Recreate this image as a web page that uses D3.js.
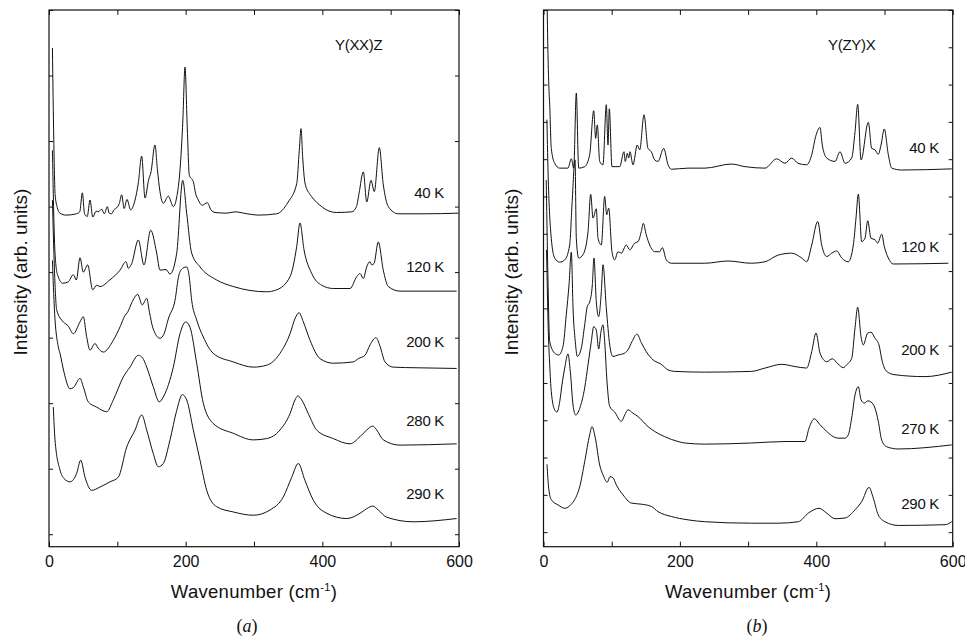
<!DOCTYPE html>
<html>
<head>
<meta charset="utf-8">
<script src="https://cdn.jsdelivr.net/npm/d3@7"></script>
<style>
  html, body { margin: 0; padding: 0; background: #fff; }
  svg { display: block; font-family: "Liberation Sans", Arial, Helvetica, sans-serif; }
</style>
</head>
<body>
<svg id="chart" width="965" height="638"></svg>
<script>
// ---------------------------------------------------------------
// Raman spectra, [wavenumber (cm^-1), stacked intensity (arb.)]
// ---------------------------------------------------------------

// Y(XX)Z geometry
const xxTemps = ["40 K", "120 K", "200 K", "280 K", "290 K"];
const xx40 = [[5,7.42],[7,6.02],[9,5.18],[12,4.99],[16,4.90],[25,4.87],[40,4.89],[45,4.92],[48.8,5.21],[52,4.89],[56,4.85],[60,5.10],[64,4.84],[69,4.93],[72,4.92],[77,4.96],[81,4.89],[85.4,5.00],[88,4.90],[91.7,4.89],[95,4.95],[99,4.98],[103,5.05],[106.3,5.18],[110,4.97],[114.1,5.11],[119.5,4.95],[125.9,5.10],[130.7,5.36],[135.6,5.77],[140.5,5.13],[145.6,5.40],[149.3,5.53],[155.1,5.94],[158.7,5.56],[162.4,5.23],[167.3,5.05],[174.6,5.16],[181.9,5.00],[187,5.15],[191.7,5.56],[195.9,6.32],[199,7.13],[202.3,6.22],[205.3,5.48],[211.2,5.38],[214.6,5.20],[218.5,5.10],[224.4,5.02],[231.7,5.06],[237,4.95],[242.9,4.91],[260,4.90],[272.2,4.92],[290,4.89],[306.3,4.87],[333,4.89],[350,5.07],[362.5,5.35],[366.3,5.86],[368.8,6.19],[371.2,5.76],[374.6,5.36],[381,5.20],[384.4,5.15],[399,5.00],[406,4.95],[421,4.91],[443,4.92],[450,5.00],[453.7,5.20],[460,5.53],[465,5.07],[471.2,5.40],[476,5.23],[483.4,5.90],[489,5.35],[496.6,5.00],[511,4.89],[550,4.89],[599,4.90]];
const xx120 = [[5,5.86],[8,4.49],[11,4.03],[13.6,3.93],[20,3.83],[28,3.85],[35.6,3.96],[40,3.88],[45.4,4.22],[50.2,4.00],[56.6,4.11],[63.9,3.73],[69.8,3.80],[74.6,3.78],[89,3.88],[103.9,4.03],[112.7,4.16],[116,4.06],[121,4.13],[130.7,4.49],[139,4.11],[148.8,4.64],[157.6,4.29],[162.4,4.03],[171.2,4.04],[177.1,3.97],[186.9,4.29],[195.7,5.40],[201.5,4.90],[208.8,4.29],[221,4.08],[245.4,3.88],[269.7,3.78],[318.6,3.70],[333.2,3.73],[352.7,3.93],[362.5,4.39],[367.3,4.75],[373.2,4.34],[384.4,3.98],[399.1,3.80],[416,3.75],[440.5,3.75],[450.3,3.93],[455.2,3.98],[460,3.90],[464.9,4.08],[469.8,4.16],[472.2,4.11],[475.6,4.13],[481.9,4.46],[489.2,4.03],[496.5,3.78],[513.6,3.71],[596.6,3.71]];
const xx200 = [[5,5.10],[8,4.03],[11.3,3.42],[20.9,3.24],[28,3.18],[35.6,3.06],[45.4,3.24],[50.2,3.32],[55,3.02],[60,2.81],[67.3,2.91],[72,2.84],[79.5,2.78],[94.1,2.96],[105,3.19],[110.2,3.32],[115.6,3.40],[121,3.53],[129.8,3.66],[136.5,3.50],[143,3.60],[147,3.39],[152,3.15],[162.4,2.99],[168,3.05],[175,3.30],[184.4,3.57],[190,3.95],[195.7,4.06],[201.5,4.08],[205,3.95],[208.8,3.57],[216.1,3.27],[225.8,3.01],[240.4,2.76],[269.7,2.63],[299,2.55],[318.6,2.58],[338,2.76],[352.7,3.06],[360,3.29],[365.9,3.38],[372.2,3.24],[382,2.96],[396.6,2.68],[416,2.61],[445.3,2.63],[452.6,2.68],[462.4,2.73],[469.8,2.89],[478.5,3.00],[484.4,2.87],[491.7,2.63],[503.8,2.55],[540,2.54],[596.6,2.53]];
const xx280 = [[5,4.18],[8,3.42],[13.6,2.86],[16.1,2.76],[22,2.47],[30.7,2.22],[36,2.24],[45.4,2.38],[50.2,2.25],[57.5,2.02],[69.8,1.94],[84.4,1.87],[94.1,2.05],[108.7,2.40],[118.5,2.55],[130.7,2.73],[137,2.69],[143,2.55],[152.6,2.25],[161.4,2.02],[168,2.11],[181.9,2.55],[191.7,3.06],[200,3.24],[206.3,3.16],[216.1,2.61],[225.8,2.00],[240.4,1.69],[269.7,1.54],[299,1.44],[318.6,1.46],[338,1.59],[352.7,1.84],[360,2.05],[364,2.11],[369.8,2.05],[379.5,1.84],[391.8,1.59],[416,1.46],[440.5,1.38],[455.2,1.49],[464.9,1.59],[473.7,1.65],[479.6,1.59],[489.2,1.44],[513.6,1.36],[596.6,1.38]];
const xx290 = [[6.3,1.94],[8.8,1.44],[16.1,0.98],[22,0.85],[30.7,0.80],[40.5,0.93],[46.4,1.13],[52.7,0.87],[62.5,0.67],[74.6,0.72],[89.3,0.80],[101.4,0.87],[113.7,1.33],[125.9,1.59],[135.7,1.82],[143,1.59],[152.6,1.23],[160,1.03],[167.3,1.08],[177.1,1.44],[186.9,1.89],[195.1,2.13],[201.5,2.05],[211.2,1.59],[221,1.13],[230.8,0.67],[245.4,0.42],[269.7,0.34],[299,0.29],[323.4,0.37],[342.9,0.57],[355.2,0.87],[364.8,1.08],[374.6,0.82],[386.8,0.52],[406.4,0.32],[435.6,0.24],[455.2,0.32],[464.9,0.39],[473.7,0.43],[481.9,0.37],[494.2,0.26],[533.1,0.19],[596.6,0.24]];

// Y(ZY)X geometry
const zyTemps = ["40 K", "120 K", "200 K", "270 K", "290 K"];
const zy40 = [[5,14.5],[6.6,12.8],[7.6,12.08],[9.1,11.46],[11.4,10.29],[16.4,9.89],[23.8,9.76],[35.9,9.76],[40.8,10.01],[44.3,9.76],[48.1,11.77],[51.6,9.76],[60.4,9.80],[67.7,10.12],[73.6,11.30],[76.5,10.56],[78.9,10.92],[82.4,9.94],[87.2,9.85],[92.1,11.46],[94.6,10.38],[96.5,11.35],[100.4,9.80],[111.7,9.80],[118,10.20],[119.9,9.94],[122.9,10.16],[124.9,10.03],[126.8,10.20],[131.2,9.85],[137.5,10.38],[141.1,10.25],[147.4,11.19],[153.2,10.29],[158.1,10.20],[163,9.98],[167.9,9.94],[176.2,10.29],[182.6,9.85],[187.4,9.73],[211.9,9.76],[236.8,9.76],[275.4,9.87],[295.5,9.80],[324.8,9.76],[341.9,10.01],[354.1,9.89],[363.9,10.03],[373.2,9.89],[385.9,9.85],[393.3,10.12],[399.1,10.61],[405.4,10.85],[408.8,10.38],[415.3,10.03],[427.4,9.94],[434.8,10.20],[442.1,9.89],[451.9,10.03],[456.8,10.74],[460.7,11.47],[465.6,9.98],[476.3,10.99],[481.2,10.29],[486.1,10.25],[490.9,10.13],[494.9,10.38],[499.7,10.81],[505.6,10.12],[510.6,9.76],[525.2,9.71],[598.6,9.74]];
const zy120 = [[5,11.06],[7,9.44],[9,8.51],[11.4,7.88],[16.4,7.35],[23.8,7.24],[31.1,7.30],[38.4,7.70],[41.8,8.78],[46.2,9.98],[48.1,7.88],[51.6,7.35],[57.9,7.44],[65.3,8.06],[69.2,9.06],[72.6,8.42],[77.4,8.67],[79.9,7.88],[84.8,7.70],[89.7,9.00],[92.7,8.51],[95.6,8.69],[100.4,7.52],[104.4,7.30],[109.2,7.52],[114.1,7.48],[121.4,7.70],[126.4,7.57],[133.7,7.75],[138.6,7.79],[143.4,8.06],[146.3,8.28],[150.7,7.97],[155.7,7.70],[163,7.52],[170.4,7.52],[174.2,7.63],[180.1,7.30],[187.4,7.21],[236.4,7.21],[270.5,7.27],[304.7,7.21],[324.8,7.25],[344.3,7.43],[363.9,7.48],[378.6,7.35],[385.9,7.25],[393.3,7.70],[402.1,8.33],[407.9,7.70],[415.3,7.39],[422.6,7.48],[429.9,7.54],[437.3,7.35],[446.9,7.25],[454.3,7.70],[458.2,8.42],[461.6,9.06],[466.6,7.79],[471.4,7.88],[475.4,8.35],[480.2,7.88],[486.1,7.84],[490,7.75],[495.9,7.99],[499.7,7.66],[505.6,7.35],[512.9,7.19],[593.6,7.21]];
const zy200 = [[4,9.44],[6,7.30],[9.1,5.11],[16.4,4.80],[22.3,4.75],[28.6,4.98],[33.4,5.83],[37.4,6.63],[40.8,7.51],[43.3,6.01],[46.6,5.11],[49.6,4.71],[55.4,4.93],[60.4,5.56],[64.2,6.05],[67.7,6.17],[71.6,6.63],[74,7.35],[77.4,6.18],[80.9,5.78],[84.8,6.45],[87.2,7.17],[92.1,6.01],[97.1,5.02],[101.9,4.71],[109.2,4.75],[119.1,4.80],[123.9,4.89],[129.8,5.11],[137.1,5.31],[143.4,5.08],[150.7,4.84],[160.6,4.62],[172.7,4.50],[182.6,4.35],[192.4,4.31],[236.4,4.29],[304.7,4.31],[324.8,4.40],[349.3,4.50],[368.8,4.44],[385.9,4.40],[393.3,4.84],[399.6,5.34],[405.5,4.80],[415.3,4.57],[423.5,4.65],[431.8,4.51],[439.6,4.41],[444.6,4.49],[451.9,4.66],[456.8,5.48],[460.7,6.03],[465.6,5.24],[468.9,5.02],[475.4,5.34],[480.2,5.36],[486.1,5.20],[491.9,5.02],[496.8,4.57],[503.2,4.31],[515.4,4.22],[559.4,4.17],[598.6,4.29]];
const zy270 = [[4.5,7.57],[7,5.42],[9.1,4.49],[11.4,3.77],[16.4,3.28],[19.8,3.22],[23.8,3.50],[27.1,3.95],[31.1,4.40],[35.9,4.78],[39.3,4.31],[43.3,3.41],[47.2,3.14],[53.1,3.32],[60.4,3.87],[65.3,4.49],[70.1,5.11],[73.6,5.51],[77.4,5.42],[80.9,4.91],[84.3,5.38],[87.2,5.56],[89.7,5.11],[93.1,4.04],[97.1,3.37],[104.4,3.22],[114.1,2.97],[119.1,3.14],[123.9,3.28],[131.2,3.19],[138.6,3.10],[153.2,2.83],[163,2.70],[177.7,2.56],[197.2,2.43],[207,2.39],[236.4,2.36],[304.7,2.39],[354.1,2.43],[383.4,2.43],[389.3,2.79],[397.1,3.04],[405.4,2.88],[415.3,2.70],[424.9,2.56],[432.3,2.52],[442.1,2.52],[446.9,2.61],[451.9,3.06],[456.8,3.68],[461.6,3.90],[465.6,3.55],[470.4,3.46],[475.4,3.52],[480.2,3.49],[486.1,3.32],[490.9,2.97],[495.9,2.47],[503.2,2.29],[520.2,2.23],[598.6,2.34]];
const zy290 = [[5.1,1.82],[7.6,1.18],[11.4,0.87],[21.3,0.73],[31.1,0.64],[40.8,0.75],[45.7,0.87],[53.1,1.22],[60.4,1.89],[67.7,2.61],[71.1,2.83],[76,2.52],[82.4,1.80],[87.2,1.54],[93.5,1.34],[97.5,1.49],[101.9,1.46],[106.7,1.27],[116.6,1.00],[128.7,0.78],[143.4,0.75],[158.1,0.69],[167.9,0.55],[187.4,0.42],[211.9,0.33],[236.4,0.28],[304.7,0.24],[344.3,0.24],[373.6,0.28],[388.3,0.51],[403.9,0.64],[415.3,0.51],[427.4,0.36],[442.1,0.38],[456.8,0.60],[466.6,0.82],[477.3,1.20],[483.6,0.91],[490.9,0.46],[500.7,0.28],[520.2,0.18],[588.7,0.20],[598.6,0.28]];

// Label positions (intensity units) for the temperature tags
const xxTagLevels = [5.13, 4.00, 2.85, 1.65, 0.54];
const zyTagLevels = [10.16, 7.52, 4.75, 2.64, 0.62];

// Axis ticks
const xTicks = [0, 100, 200, 300, 400, 500, 600];
const xLabelTicks = [0, 200, 400, 600];
const xxYTicks = [0, 1, 2, 3, 4, 5, 6, 7, 8];
const zyYTicks = [0, 1, 2, 3, 4, 5, 6, 7, 8, 9, 10, 11, 12, 13, 14];

// ---------------------------------------------------------------
const svg = d3.select("#chart");
const INK = "#111";

function drawPanel(p) {
  const top = 10, bottom = 546.7;
  const x = d3.scaleLinear().domain([0, 600]).range([p.left, p.right]);
  const y = d3.scaleLinear().domain(p.yDomain).range([bottom, top]);
  const g = svg.append("g");

  g.append("clipPath").attr("id", p.id + "-clip")
    .append("rect")
    .attr("x", p.left).attr("y", top)
    .attr("width", p.right - p.left).attr("height", bottom - top);

  const line = d3.line().x(d => x(d[0])).y(d => y(d[1])).curve(d3.curveMonotoneX);
  const plot = g.append("g").attr("clip-path", `url(#${p.id}-clip)`);
  p.series.forEach(s => {
    plot.append("path").datum(s)
      .attr("d", line)
      .attr("fill", "none")
      .attr("stroke", INK)
      .attr("stroke-width", 1)
      .attr("stroke-linejoin", "round");
  });

  // axes with inward ticks on all four sides
  const fmt = d => xLabelTicks.includes(d) ? String(d) : "";
  const axB = g.append("g").attr("transform", `translate(0,${bottom})`)
    .call(d3.axisBottom(x).tickValues(xTicks).tickSizeInner(-5).tickSizeOuter(0).tickPadding(8.5).tickFormat(fmt));
  const axT = g.append("g").attr("transform", `translate(0,${top})`)
    .call(d3.axisTop(x).tickValues(xTicks).tickSizeInner(-5).tickSizeOuter(0).tickFormat(""));
  const axL = g.append("g").attr("transform", `translate(${p.left},0)`)
    .call(d3.axisLeft(y).tickValues(p.yTicks).tickSizeInner(-4).tickSizeOuter(0).tickFormat(""));
  const axR = g.append("g").attr("transform", `translate(${p.right},0)`)
    .call(d3.axisRight(y).tickValues(p.yTicks).tickSizeInner(-4).tickSizeOuter(0).tickFormat(""));
  [axB, axT, axL, axR].forEach(a => {
    a.select(".domain").remove();
    a.selectAll(".tick line").attr("stroke", INK).attr("stroke-width", 1);
  });
  axB.selectAll(".tick text")
    .attr("font-family", '"Liberation Sans", Arial, sans-serif')
    .attr("font-size", 16).attr("fill", INK);

  // frame
  g.append("rect")
    .attr("x", p.left).attr("y", top)
    .attr("width", p.right - p.left).attr("height", bottom - top)
    .attr("fill", "none").attr("stroke", INK).attr("stroke-width", 1.2);

  // temperature tags
  p.temps.forEach((t, i) => {
    g.append("text")
      .attr("x", p.tagX).attr("y", y(p.tagLevels[i]))
      .attr("text-anchor", "end")
      .attr("font-size", 15).attr("fill", INK)
      .attr("letter-spacing", "-0.3")
      .text(t);
  });

  // scattering geometry
  g.append("text")
    .attr("x", p.geomX).attr("y", 50)
    .attr("font-size", 15).attr("fill", INK)
    .attr("letter-spacing", "-0.3")
    .text(p.geometry);

  // y title
  g.append("text")
    .attr("transform", `translate(${p.yTitleX},272) rotate(-90)`)
    .attr("text-anchor", "middle")
    .attr("font-size", 19).attr("fill", INK)
    .text("Intensity (arb. units)");

  // x title with superscript
  const xt = g.append("text")
    .attr("x", (p.left + p.right) / 2).attr("y", 597.5)
    .attr("text-anchor", "middle")
    .attr("font-size", 18.5).attr("fill", INK)
    .attr("letter-spacing", "0.3");
  xt.append("tspan").text("Wavenumber (cm");
  xt.append("tspan").attr("font-size", 11).attr("dy", -7).text("-1");
  xt.append("tspan").attr("dy", 7).text(")");

  // panel caption
  const cap = g.append("text")
    .attr("x", p.captionX).attr("y", 632)
    .attr("text-anchor", "middle")
    .attr("font-family", '"Liberation Serif", "Times New Roman", serif')
    .attr("font-size", 18).attr("fill", INK);
  cap.append("tspan").text("(");
  cap.append("tspan").attr("font-style", "italic").text(p.caption);
  cap.append("tspan").text(")");
}

drawPanel({
  id: "xx", left: 49, right: 459, yDomain: [-0.19, 8], yTicks: xxYTicks,
  series: [xx40, xx120, xx200, xx280, xx290],
  temps: xxTemps, tagLevels: xxTagLevels, tagX: 444,
  geometry: "Y(XX)Z", geomX: 335, yTitleX: 27, captionX: 247, caption: "a"
});

drawPanel({
  id: "zy", left: 543.5, right: 952.7, yDomain: [-0.39, 14], yTicks: zyYTicks,
  series: [zy40, zy120, zy200, zy270, zy290],
  temps: zyTemps, tagLevels: zyTagLevels, tagX: 939,
  geometry: "Y(ZY)X", geomX: 828, yTitleX: 518, captionX: 757, caption: "b"
});
</script>
</body>
</html>
